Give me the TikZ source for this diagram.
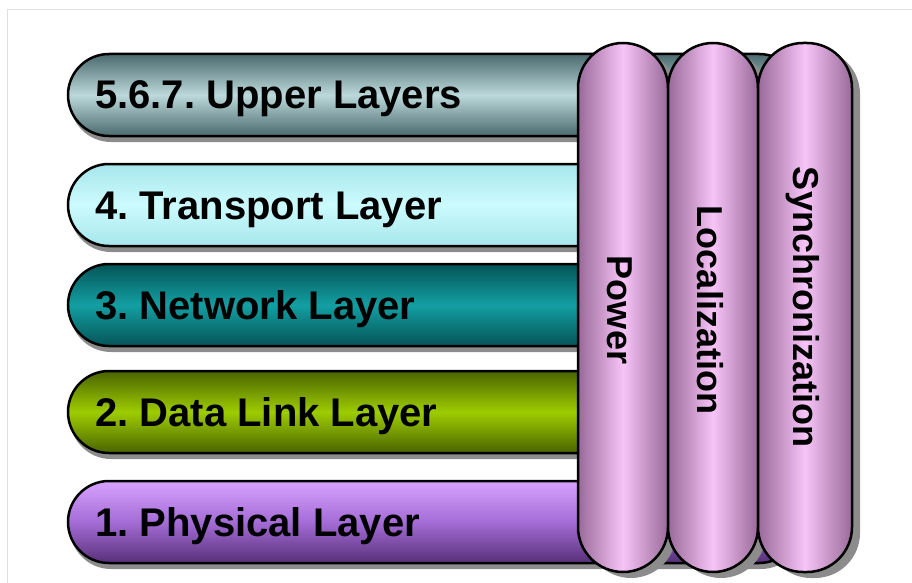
\documentclass[tikz,border=0pt]{standalone}
\usepackage{fontspec}
\setmainfont{Liberation Sans}
\usepackage{tikz}
\usetikzlibrary{shadows}
\usetikzlibrary{positioning}

\definecolor{upperdark}{HTML}{4A6A6E}
\definecolor{upperlight}{HTML}{BCD8DA}
\definecolor{transdark}{HTML}{A6E6EC}
\definecolor{translight}{HTML}{CCFBFD}
\definecolor{netdark}{HTML}{045457}
\definecolor{netlight}{HTML}{139FA2}
\definecolor{linkdark}{HTML}{4A6400}
\definecolor{linklight}{HTML}{9DCC00}
\definecolor{physlight}{HTML}{D8A2FF}
\definecolor{physmid}{HTML}{A46CD6}
\definecolor{physdark}{HTML}{573078}
\definecolor{pillardark}{HTML}{996A99}
\definecolor{pillarlight}{HTML}{F7C4F7}

\frenchspacing

\begin{document}
\begin{tikzpicture}
        [ x=1pt, y=-1pt
        , layer/.style={draw=black, line width=2.5pt, rounded corners=41pt
            , minimum width=732pt, minimum height=82pt, inner sep=0pt
            , drop shadow={shadow xshift=2pt, shadow yshift=-6pt, fill=black!45, opacity=1}}
        , pillar/.style={draw=black, line width=2.5pt, rounded corners=45pt
            , minimum width=90pt, minimum height=529pt, inner sep=0pt
            , left color=pillardark, right color=pillardark, middle color=pillarlight
            , drop shadow={shadow xshift=8pt, shadow yshift=-6pt, fill=black!45, opacity=1}}
        , layertext/.style={font=\fontsize{40}{40}\selectfont\bfseries, inner sep=0pt, anchor=base west}
        , pillartext/.style={font=\fontsize{36}{36}\selectfont\bfseries, inner sep=0pt, rotate=-90}
        ]
                \useasboundingbox (0,0) rectangle (912,583);
                \draw[black!12, line width=1pt] (7,583) -- (7,10) -- (912,10);

                \node[layer, top color=upperdark, bottom color=upperdark, middle color=upperlight] (upper) at (434,95) {};
                \node[layer, top color=transdark, bottom color=transdark, middle color=translight] (transport) at (434,205) {};
                \node[layer, top color=netdark, bottom color=netdark, middle color=netlight] (network) at (434,305) {};
                \node[layer, top color=physlight, bottom color=physdark, middle color=physmid] (physical) at (434,522) {};
                \node[layer, top color=linkdark, bottom color=linkdark, middle color=linklight] (datalink) at (434,412) {};

                \node[layertext] (uppertext) at (95,109) {5.6.7. Upper Layers};
                \node[layertext] (transporttext) at (95,219) {4. Transport Layer};
                \node[layertext] (networktext) at (95,319) {3. Network Layer};
                \node[layertext] (datalinktext) at (95,426) {2. Data Link Layer};
                \node[layertext] (physicaltext) at (95,536) {1. Physical Layer};

                \node[pillar] (power) at (623,307.5) {};
                \node[pillar] (localization) at (713,307.5) {};
                \node[pillar, minimum width=94pt] (sync) at (805,307.5) {};

                \node[pillartext] (powertext) at (620,310) {Power};
                \node[pillartext] (localizationtext) at (710,310) {Localization};
                \node[pillartext] (synctext) at (803,307) {Synchronization};
        \end{tikzpicture}
\end{document}
